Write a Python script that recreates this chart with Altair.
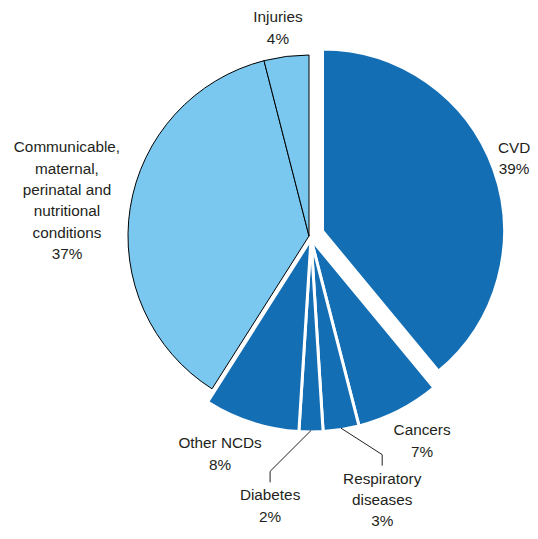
import math
import altair as alt
import pandas as pd

# ---- data ----
causes = ["CVD", "Cancers", "Respiratory diseases", "Diabetes", "Other NCDs",
          "Communicable, maternal, perinatal and nutritional conditions", "Injuries"]
shares = [39, 7, 3, 2, 8, 37, 4]
label_text = ["CVD", "Cancers", "Respiratory\ndiseases", "Diabetes", "Other NCDs",
              "Communicable,\nmaternal,\nperinatal and\nnutritional\nconditions", "Injuries"]
groups = ["CVD", "NCD", "NCD", "NCD", "NCD", "Other", "Other"]
leader_causes = ["Respiratory diseases", "Diabetes"]

# ---- layout (styling, not data) ----
label_shift_deg = [-0.9, -1.9, -6.5, 8.2, 4.2, -0.7, -1.3]
label_radius = [219.2, 234, 273.9, 272.8, 235.5, 244.6, 210.3]
CX, CY = 301, 228          # pie centre (chart coords)
NCD_X, NCD_Y, NCD_R = 303, 231, 193
CVD_X, CVD_Y, CVD_R = 314.5, 223, 182
LIGHT_R = 181
LH = 21.3
DARK = "#146eb4"
LIGHT = "#7ac8f0"
TXT = "#231f20"
FONT = "Liberation Sans"
FS = 15.3

df = pd.DataFrame({"cause": causes, "share": shares, "group": groups})
df["end"] = df["share"].cumsum()
df["start"] = df["end"] - df["share"]

rows = []
for i, c in enumerate(causes):
    lines = label_text[i].split("\n") + [f"{shares[i]}%"]
    for j, t in enumerate(lines):
        rows.append({"cause": c, "text": t, "idx": j, "n": len(lines),
                     "start": float(df["start"][i]), "end": float(df["end"][i]),
                     "shift": label_shift_deg[i], "lr": label_radius[i]})
lab = pd.DataFrame(rows)

theta_scale = alt.Scale(domain=[0, 100], range=[0, 2 * math.pi])
base = alt.Chart(df)


def arcs(group, cx, cy, r, fill, stroke, sw):
    return base.transform_filter(alt.datum.group == group).mark_arc(
        radius=r, stroke=stroke, strokeWidth=sw, strokeJoin="round"
    ).encode(
        theta=alt.Theta("start:Q", scale=theta_scale, stack=False),
        theta2="end:Q",
        x=alt.value(cx),
        y=alt.value(cy),
        color=alt.value(fill),
    )


light = arcs("Other", CX, CY, LIGHT_R, LIGHT, "black", 1)
cvd = arcs("CVD", CVD_X, CVD_Y, CVD_R, DARK, "white", 3)
ncd = arcs("NCD", NCD_X, NCD_Y, NCD_R, DARK, "white", 3)

lab_base = alt.Chart(lab).transform_calculate(
    a="(datum.start + datum.end) / 200 * 2 * PI + datum.shift * PI / 180",
    m="(datum.start + datum.end) / 200 * 2 * PI",
).transform_calculate(
    bx=f"{CX} + datum.lr * sin(datum.a)",
    by=f"{CY} - datum.lr * cos(datum.a) + (datum.idx - (datum.n - 1) / 2) * {LH}",
)

labels = lab_base.mark_text(
    font=FONT, fontSize=FS, align="center", baseline="middle", color=TXT
).encode(
    x=alt.X("bx:Q", scale=None, axis=None),
    y=alt.Y("by:Q", scale=None, axis=None),
    text="text:N",
)

lead = lab_base.transform_filter(alt.datum.idx == 0).transform_filter(
    alt.FieldOneOfPredicate(field="cause", oneOf=leader_causes)
).transform_calculate(
    rx=f"{NCD_X} + {NCD_R - 1.5} * sin(datum.m)",
    ry=f"{NCD_Y} - {NCD_R - 1.5} * cos(datum.m)",
    ey="datum.by - 24",
    fy="datum.by - 13",
)

lead1 = lead.mark_rule(color=TXT, strokeWidth=1).encode(
    x=alt.X("rx:Q", scale=None, axis=None),
    y=alt.Y("ry:Q", scale=None, axis=None),
    x2="bx:Q",
    y2="ey:Q",
)
lead2 = lead.mark_rule(color=TXT, strokeWidth=1).encode(
    x=alt.X("bx:Q", scale=None, axis=None),
    y=alt.Y("ey:Q", scale=None, axis=None),
    x2="bx:Q",
    y2="fy:Q",
)

chart = alt.layer(light, cvd, ncd, lead1, lead2, labels).properties(
    width=522, height=523, autosize=alt.AutoSizeParams(type="none"), padding=0
).configure_view(strokeWidth=0)

chart.save("out.html", embed_options={"renderer": "svg", "actions": False})
